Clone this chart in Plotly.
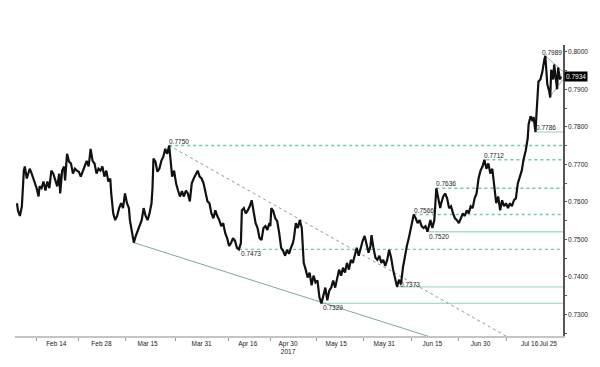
import plotly.graph_objects as go

# session index (chart time units) and AUD/USD price
t = [0,1,3,5,7,8,10,13,15,18,
     20,22,23,25,27,29,31,33,35,37,
     39,41,43,44,46,48,49,51,53,55,
     57,59,61,63,65,67,69,71,73,75,
     77,79,81,83,85,87,89,91,93,95,
     96,98,100,102,104,106,108,110,112,114,
     115,117,119,121,123,125,127,129,131,133,
     135,137,138,139,141,143,145,147,149,151,
     153,155,156,158,160,162,164,166,168,170,
     172,174,176,178,180,182,184,186,188,190,
     192,194,196,198,200,202,204,206,208,210,
     212,214,216,218,220,222,224,226,228,229,
     231,233,235,237,239,241,243,245,247,249,
     251,253,255,257,258,259,261,263,265,267,
     269,271,273,275,277,279,281,282,284,286,
     288,290,291,292,294,296,298,300,302,304,
     306,308,310,312,314,316,318,320,322,324,
     326,328,330,332,334,336,338,340,342,344,
     346,348,350,352,354,356,358,360,361,363,
     365,367,369,371,373,375,377,379,381,383,
     385,387,389,391,393,395,397,399,401,403,
     404,406,408,410,412,414,416,418,420,421,
     423,425,427,429,431,432,434,436,438,440,
     442,444,446,448,450,452,454,456,458,460,
     462,464,466,468,470,472,474,476,478,480,
     482,484,486,488,490,492,494,496,498,500,
     502,504,506,508,510,512,514,516,518,520,
     521,523,525,526,527,528,529,530,531,533,
     535,537,538,539,540,542,543,544,546,547,
     549,550,551,553,554]

price = [.7596,.7577,.7562,.7588,.7683,.7694,.7662,.7688,.7675,.7654,
         .7636,.7614,.7641,.7636,.7654,.7630,.7654,.7636,.7683,.7675,
         .7657,.7641,.7675,.7622,.7683,.7694,.7657,.7728,.7707,.7702,
         .7675,.7688,.7683,.7680,.7667,.7683,.7694,.7709,.7694,.7741,
         .7709,.7702,.7675,.7688,.7683,.7694,.7667,.7683,.7654,.7662,
         .7622,.7569,.7551,.7562,.7583,.7596,.7583,.7622,.7596,.7583,
         .7551,.7525,.7491,.7509,.7525,.7535,.7551,.7583,.7562,.7551,
         .7569,.7596,.7636,.7715,.7707,.7680,.7688,.7709,.7720,.7741,
         .7728,.7750,.7715,.7667,.7683,.7649,.7630,.7614,.7628,.7614,
         .7630,.7622,.7601,.7649,.7662,.7675,.7683,.7667,.7662,.7649,
         .7622,.7601,.7596,.7569,.7556,.7577,.7562,.7551,.7535,.7543,
         .7517,.7503,.7482,.7490,.7503,.7496,.7477,.7473,.7490,.7577,
         .7583,.7569,.7577,.7588,.7604,.7577,.7543,.7530,.7503,.7498,
         .7530,.7535,.7525,.7543,.7535,.7583,.7575,.7556,.7548,.7517,
         .7477,.7469,.7456,.7472,.7461,.7477,.7490,.7503,.7543,.7530,
         .7551,.7530,.7490,.7437,.7419,.7398,.7411,.7377,.7403,.7385,
         .7390,.7345,.7329,.7350,.7371,.7337,.7363,.7371,.7390,.7371,
         .7392,.7419,.7403,.7424,.7411,.7437,.7419,.7445,.7437,.7456,
         .7477,.7456,.7477,.7496,.7509,.7490,.7464,.7482,.7511,.7477,
         .7451,.7445,.7456,.7437,.7445,.7429,.7445,.7472,.7451,.7419,
         .7392,.7373,.7392,.7380,.7424,.7456,.7482,.7503,.7530,.7551,
         .7566,.7556,.7543,.7551,.7535,.7530,.7535,.7520,.7543,.7551,
         .7530,.7551,.7636,.7609,.7583,.7596,.7614,.7622,.7609,.7583,
         .7588,.7569,.7556,.7551,.7543,.7556,.7569,.7562,.7577,.7569,
         .7588,.7583,.7609,.7622,.7662,.7683,.7694,.7712,.7688,.7702,
         .7675,.7688,.7636,.7596,.7614,.7577,.7604,.7588,.7596,.7583,
         .7596,.7588,.7604,.7609,.7649,.7667,.7683,.7715,.7736,.7768,
         .7807,.7828,.7815,.7826,.7794,.7786,.7834,.7886,.7921,.7926,
         .7947,.7979,.7989,.7952,.7913,.7894,.7878,.7952,.7926,.7966,
         .7913,.7900,.7958,.7926,.7934]

last_price = 0.7934

# x tick labels (placed between the tick marks)
tick_t = [40, 86, 133, 188, 235, 276, 325, 374, 423, 472, 522, 541]
tick_text = ["Feb 14", "Feb 28", "Mar 15", "Mar 31", "Apr 16", "Apr 30<br>2017",
             "May 15", "May 31", "Jun 15", "Jun 30", "Jul 16", "Jul 25"]
tickmark_t = [20, 63, 111, 161, 215, 258, 305, 353, 402, 450, 498]

y_ticks = [0.73, 0.74, 0.75, 0.76, 0.77, 0.78, 0.79, 0.80]

# horizontal support / resistance levels
dotted_levels = [0.7750, 0.7712, 0.7636, 0.7566, 0.7473]
dotted_start = [155, 478, 427, 404, 226]
solid_levels = [0.7786, 0.7520, 0.7373, 0.7329]
solid_start = [528, 418, 387, 310]
level_end = 556

# trend lines (t, price)
down_trend_t = [155, 510]
down_trend_p = [0.7750, 0.7224]
low_trend_t = [119, 425]
low_trend_p = [0.7491, 0.7236]
tri_upper_t = [538, 556]
tri_upper_p = [0.7989, 0.7947]
tri_lower_t = [542, 556]
tri_lower_p = [0.7878, 0.7926]

# labelled extremes: (t, value, placement)
label_t = [155, 226, 310, 387, 418, 404, 427, 476, 528, 538]
label_v = [0.7750, 0.7473, 0.7329, 0.7373, 0.7520, 0.7566, 0.7636, 0.7712, 0.7786, 0.7989]
label_pos = ["above", "below", "below", "right", "below", "above", "above", "above", "above", "top"]

DOT_COL = "#6fcbb0"
SOLID_COL = "#a9ddcc"
FONT = "Liberation Sans"

fig = go.Figure()

for lv, st in zip(dotted_levels, dotted_start):
    fig.add_trace(go.Scatter(x=[st, level_end], y=[lv, lv], mode="lines",
                             line=dict(color=DOT_COL, width=1.3, dash="3px,3px"),
                             hoverinfo="skip", showlegend=False))
for lv, st in zip(solid_levels, solid_start):
    fig.add_trace(go.Scatter(x=[st, level_end], y=[lv, lv], mode="lines",
                             line=dict(color=SOLID_COL, width=1.3),
                             hoverinfo="skip", showlegend=False))

fig.add_trace(go.Scatter(x=down_trend_t, y=down_trend_p, mode="lines",
                         line=dict(color="#8a9c9c", width=1, dash="3px,3px"),
                         hoverinfo="skip", showlegend=False))
fig.add_trace(go.Scatter(x=low_trend_t, y=low_trend_p, mode="lines",
                         line=dict(color="#7ea6aa", width=1),
                         hoverinfo="skip", showlegend=False))
for tx, py in ((tri_upper_t, tri_upper_p), (tri_lower_t, tri_lower_p)):
    fig.add_trace(go.Scatter(x=tx, y=py, mode="lines",
                             line=dict(color="#8fb4b6", width=1),
                             hoverinfo="skip", showlegend=False))

fig.add_trace(go.Scatter(x=t, y=price, mode="lines",
                         line=dict(color="#111111", width=2.2),
                         showlegend=False))

for lt, lv, pos in zip(label_t, label_v, label_pos):
    if pos == "above":
        kw = dict(xanchor="left", yanchor="bottom", xshift=-1, yshift=0)
    elif pos == "below":
        kw = dict(xanchor="left", yanchor="top", xshift=1, yshift=0)
    elif pos == "top":
        kw = dict(xanchor="left", yanchor="middle", xshift=-4, yshift=3)
    else:
        kw = dict(xanchor="left", yanchor="middle", xshift=2, yshift=2)
    fig.add_annotation(x=lt, y=lv, text=f"{lv:.4f}", showarrow=False,
                       font=dict(family=FONT, size=6.5, color="#222"),
                       borderpad=0, **kw)

fig.add_annotation(x=1, xref="paper", y=last_price, yref="y",
                   text=f"{last_price:.4f}", showarrow=False,
                   xanchor="left", yanchor="middle", xshift=1,
                   bgcolor="#000000", font=dict(family=FONT, size=6.5, color="#ffffff"),
                   borderpad=1)

fig.update_layout(
    width=600, height=367,
    margin=dict(l=15, r=27, t=45, b=28),
    paper_bgcolor="white", plot_bgcolor="white",
    font=dict(family=FONT, size=7, color="#222"),
    xaxis=dict(range=[-2, 556], tickmode="array", tickvals=tick_t, ticktext=tick_text,
               tickangle=0, ticks="", showgrid=False, zeroline=False, showline=True,
               linecolor="#c4c4c4", linewidth=2,
               tickfont=dict(family=FONT, size=6.5, color="#222"),
               minor=dict(tickmode="array", tickvals=tickmark_t, ticks="outside",
                          ticklen=3, tickcolor="#999", showgrid=False)),
    yaxis=dict(range=[0.7242, 0.8018], side="right", tickmode="array",
               tickvals=y_ticks, tickformat=".4f", ticks="outside", ticklen=2,
               tickcolor="#555", showgrid=False, zeroline=False, showline=True,
               linecolor="#555", linewidth=1.5, ticklabelstandoff=0,
               tickfont=dict(family=FONT, size=6.5, color="#222"),
               minor=dict(dtick=0.005, tick0=0.7, ticks="outside", ticklen=2,
                          tickcolor="#555", showgrid=False)),
)

fig.write_html("out.html", config={"displayModeBar": False},
               post_script="document.body.style.margin='0';")
